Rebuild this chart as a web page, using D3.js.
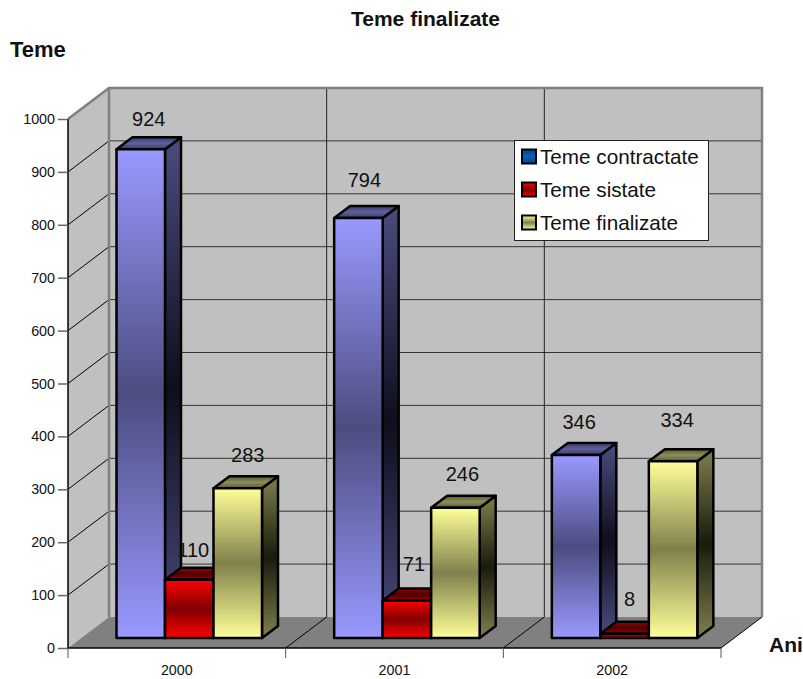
<!doctype html>
<html lang="en">
<head>
<meta charset="utf-8">
<style>
html,body{margin:0;padding:0;background:#fff;}
svg{display:block;}
text{font-family:"Liberation Sans",Arial,sans-serif;fill:#111;}
</style>
</head>
<body>
<div id="grafic"></div>
<script src="https://d3js.org/d3.v7.min.js"></script>
<script>
var ani = ["2000","2001","2002"];
var serii = ["Teme contractate","Teme sistate","Teme finalizate"];
var contractate = [924,794,346];
var sistate = [110,71,8];
var finalizate = [283,246,334];
var valori = [contractate,sistate,finalizate];
var yTicks = [0,100,200,300,400,500,600,700,800,900,1000];

// colours per series: light, dark
var culori = [
	{id:"b",front:["#9999ff","#4c4c80"],side:["#4c4c80","#0e0e1c"],top:["#3a3a70","#60609a"],leg:["#00408c","#0a62b8"]},
	{id:"r",front:["#ff0000","#800000"],side:["#800000","#260000"],top:["#a00000","#4a0000"],leg:["#ff0000","#800000"]},
	{id:"g",front:["#ffff99","#80804c"],side:["#80804c","#1a1a0e"],top:["#5a5a36","#8c8c5c"],leg:["#ffff99","#80804c"]}
];

var W = 803, H = 679;
var svg = d3.select("#grafic").append("svg").attr("width",W).attr("height",H);
var defs = svg.append("defs");

function grad(id,c){
	var g = defs.append("linearGradient").attr("id",id).attr("x1",0).attr("y1",0).attr("x2",0).attr("y2",1);
	g.append("stop").attr("offset","0%").attr("stop-color",c[0]);
	g.append("stop").attr("offset","50%").attr("stop-color",c[1]);
	g.append("stop").attr("offset","100%").attr("stop-color",c[0]);
}
culori.forEach(function(c){
	grad(c.id+"front",c.front);
	grad(c.id+"side",c.side);
	grad(c.id+"top",c.top);
	grad(c.id+"leg",c.leg);
});

// scales
var y = d3.scaleLinear().domain([0,1000]).range([648,119]);
var x0 = d3.scaleBand().domain(ani).range([68,721]);
var x1 = d3.scaleBand().domain(serii).range([36,181.5]);

// wall depth and bar depth
var dx = 41, dy = -31;
var bdx = 16, bdy = -12;
var shiftX = 12.5, shiftY = -10;

var x = 68, xr = 721, yb = y(0), yt = y(1000);

// walls and floor
svg.append("polygon").attr("fill","#c0c0c0")
	.attr("points",[[x,yb],[x,yt],[x+dx,yt+dy],[xr+dx,yt+dy],[xr+dx,yb+dy],[x+dx,yb+dy]].join(" "));
svg.append("polygon").attr("fill","#808080")
	.attr("points",[[x,yb],[xr,yb],[xr+dx,yb+dy],[x+dx,yb+dy]].join(" "));

// grid
yTicks.slice(1,-1).forEach(function(t){
	svg.append("line").attr("x1",x).attr("y1",y(t)).attr("x2",x+dx).attr("y2",y(t)+dy).attr("stroke","#000");
	svg.append("line").attr("x1",x+dx).attr("y1",y(t)+dy).attr("x2",xr+dx).attr("y2",y(t)+dy).attr("stroke","#333");
});
ani.slice(1).forEach(function(a){
	var p = x0(a);
	svg.append("line").attr("x1",p+dx).attr("y1",yt+dy).attr("x2",p+dx).attr("y2",yb+dy).attr("stroke","#222");
	svg.append("line").attr("x1",p).attr("y1",yb).attr("x2",p+dx).attr("y2",yb+dy).attr("stroke","#000");
});
svg.append("line").attr("x1",xr).attr("y1",yb).attr("x2",xr+dx).attr("y2",yb+dy).attr("stroke","#000");

// wall borders
svg.append("polyline").attr("fill","none").attr("stroke","#808080").attr("stroke-width",2.5)
	.attr("points",[[x,yt],[x+dx,yt+dy],[xr+dx,yt+dy],[xr+dx,yb+dy]].join(" "));
svg.append("line").attr("x1",x+dx).attr("y1",yt+dy).attr("x2",x+dx).attr("y2",yb+dy).attr("stroke","#808080").attr("stroke-width",2.5);

// axes
var axisY = d3.axisLeft(y).tickValues(yTicks).tickFormat(d3.format("d")).tickSize(10).tickPadding(3);
var gy = svg.append("g").attr("transform","translate("+x+",0)").call(axisY);
gy.selectAll("text").style("font-size","14.3px").style("font-family",'"Liberation Sans",Arial,sans-serif');
gy.selectAll(".tick line").attr("stroke","#666").attr("stroke-width",1.5);
gy.select(".domain").attr("stroke","#000").attr("stroke-width",1.5).attr("d","M0,"+yt+"V"+yb);

svg.append("line").attr("x1",x).attr("y1",yb).attr("x2",xr).attr("y2",yb).attr("stroke","#000").attr("stroke-width",1.5);
[x].concat(ani.slice(1).map(function(a){return x0(a)}),[xr]).forEach(function(p){
	svg.append("line").attr("x1",p).attr("y1",yb).attr("x2",p).attr("y2",yb+10).attr("stroke","#555");
});
svg.selectAll(".anLabel").data(ani).enter().append("text").attr("class","anLabel")
	.attr("x",function(d){return x0(d)+x0.bandwidth()/2}).attr("y",675)
	.attr("text-anchor","middle").style("font-size","14.3px").text(function(d){return d});

// bars
function puncte(a){return a.map(function(p){return p.join(",")}).join(" ")}
var etichete = [];
ani.forEach(function(an,i){
	serii.forEach(function(s,k){
		var v = valori[k][i], c = culori[k];
		var l = x0(an)+x1(s)+shiftX, w = x1.bandwidth();
		var b = y(0)+shiftY, t = y(v)+shiftY;
		var g = svg.append("g").attr("stroke","#000").attr("stroke-width",2.5).attr("stroke-linejoin","round");
		g.append("polygon").attr("fill","url(#"+c.id+"side)")
			.attr("points",puncte([[l+w,b],[l+w,t],[l+w+bdx,t+bdy],[l+w+bdx,b+bdy]]));
		g.append("polygon").attr("fill","url(#"+c.id+"top)")
			.attr("points",puncte([[l,t],[l+bdx,t+bdy],[l+w+bdx,t+bdy],[l+w,t]]));
		g.append("rect").attr("x",l).attr("y",t).attr("width",w).attr("height",b-t).attr("fill","url(#"+c.id+"front)");
		etichete.push({v:v,x:l+w/2+8,y:t});
	});
});

// value labels go on top of every bar, hand placed like in the original
var labelUp = [23,23,26,31,29,27,26,28,34];
var labelSide = [0,-4,2,-2,-1,-1,-5,-3,-4];
svg.selectAll(".val").data(etichete).enter().append("text").attr("class","val")
	.attr("x",function(d,i){return d.x+labelSide[i]}).attr("y",function(d,i){return d.y-labelUp[i]})
	.attr("text-anchor","middle").style("font-size","20px").text(function(d){return d.v});

// legend
var leg = svg.append("g").attr("transform","translate(514,140)");
leg.append("rect").attr("x",0.5).attr("y",0.5).attr("width",194).attr("height",100).attr("fill","#fff").attr("stroke","#222");
var legY = d3.scaleBand().domain(serii).range([0,99]);
serii.forEach(function(s,k){
	var ly = legY(s)+legY.bandwidth()/2;
	leg.append("rect").attr("x",8).attr("y",ly-7).attr("width",14).attr("height",14)
		.attr("fill","url(#"+culori[k].id+"leg)").attr("stroke","#000").attr("stroke-width",2);
	leg.append("text").attr("x",26).attr("y",ly+7).style("font-size","20.7px").text(s);
});

// titles
svg.append("text").attr("x",425.5).attr("y",26).attr("text-anchor","middle").style("font-size","21px").style("font-weight","bold").text("Teme finalizate");
svg.append("text").attr("x",10).attr("y",57).style("font-size","22px").style("font-weight","bold").text("Teme");
svg.append("text").attr("x",769).attr("y",652).style("font-size","21px").style("font-weight","bold").text("Ani");
</script>
</body>
</html>
